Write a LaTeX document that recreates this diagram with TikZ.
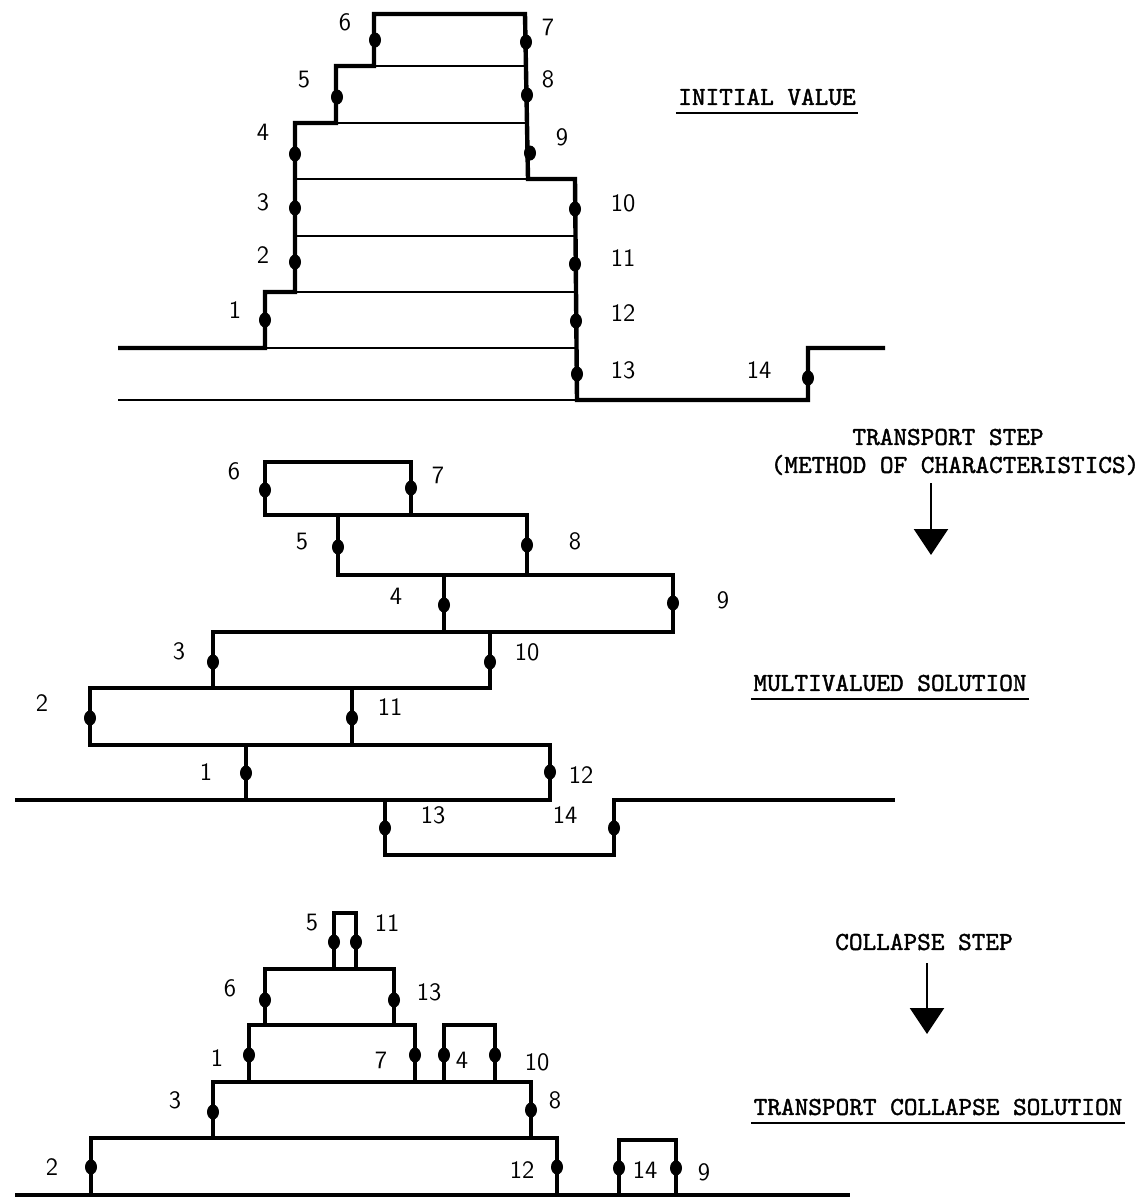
\documentclass[tikz,border=0pt]{standalone}
\usepackage{fontspec}
\newfontfamily\capfont{lmmono10-regular.otf}[FakeBold=1.5]
\usetikzlibrary{shapes,arrows.meta}

\begin{document}
\begin{tikzpicture}[x=0.5pt, y=-0.5pt,
  bold/.style={line width=2.2pt, line join=miter},
  fine/.style={line width=0.9pt},
  dot/.style={ellipse, fill=black, inner sep=0pt, minimum width=6pt, minimum height=7.5pt},
  num/.style={font=\sffamily\fontsize{12.5}{13}\selectfont, inner sep=0pt},
  caption/.style={font=\capfont\fontsize{13}{15}\selectfont, inner sep=0pt, align=center},
  uline/.style={line width=1pt},
  arr/.style={-{Triangle[length=13pt,width=17pt]}, line width=1.2pt}
]
  \useasboundingbox (0,0) rectangle (1139,1200);

  % initial value
  \draw[fine] (374,66) -- (525,66) (336,123) -- (525,123) (295,179) -- (527,179)
    (295,236) -- (575,236) (295,292) -- (575,292) (265,348) -- (575,348) (118,400) -- (577,400);
  \draw[bold] (118,348) -- (265,348) -- (265,292) -- (295,292) -- (295,123) -- (336,123)
    -- (336,66) -- (374,66) -- (374,14) -- (525,14) -- (528,179) -- (575,179) -- (577,400)
    -- (808,400) -- (808,348) -- (885,348);

  \node[dot] (da1) at (265,320) {};  \node[dot] (da2) at (295,262) {};
  \node[dot] (da3) at (295,208) {};  \node[dot] (da4) at (295,154) {};
  \node[dot] (da5) at (337,97) {};   \node[dot] (da6) at (375,40) {};
  \node[dot] (da7) at (526,42) {};   \node[dot] (da8) at (527,95) {};
  \node[dot] (da9) at (530,153) {};  \node[dot] (da10) at (575,209) {};
  \node[dot] (da11) at (575,264) {}; \node[dot] (da12) at (576,321) {};
  \node[dot] (da13) at (577,374) {}; \node[dot] (da14) at (808,378) {};

  \node[num] (a1) at (235,310) {1};   \node[num] (a2) at (263,255) {2};
  \node[num] (a3) at (263,202) {3};   \node[num] (a4) at (263,132) {4};
  \node[num] (a5) at (304,80) {5};    \node[num] (a6) at (345,22) {6};
  \node[num] (a7) at (548,27) {7};    \node[num] (a8) at (548,79) {8};
  \node[num] (a9) at (562,137) {9};   \node[num] (a10) at (623,203) {10};
  \node[num] (a11) at (623,258) {11}; \node[num] (a12) at (623,313) {12};
  \node[num] (a13) at (623,370) {13}; \node[num] (a14) at (759,370) {14};

  \node[caption] (init) at (767,97) {INITIAL VALUE};
  \draw[uline] ([shift={(-1pt,-3.5pt)}]init.south west) -- ([shift={(1pt,-3.5pt)}]init.south east);

  % transport step
  \node[caption] (tstep) at (948,437) {TRANSPORT STEP};
  \node[caption] (moc) at (955,465) {(METHOD OF CHARACTERISTICS)};
  \coordinate (arrtop1) at (931,483);
  \coordinate (arrtip1) at (931,555);
  \draw[arr] (arrtop1) -- (arrtip1);

  % multivalued solution
  \draw[bold] (265,462) rectangle (411,515);
  \draw[bold] (338,515) rectangle (527,575);
  \draw[bold] (444,575) rectangle (673,632);
  \draw[bold] (213,632) rectangle (490,688);
  \draw[bold] (90,688) rectangle (352,745);
  \draw[bold] (246,745) rectangle (550,800);
  \draw[bold] (15,800) -- (385,800) -- (385,855) -- (614,855) -- (614,800) -- (895,800);

  \node[dot] (db1) at (246,773) {};  \node[dot] (db2) at (90,718) {};
  \node[dot] (db3) at (213,662) {};  \node[dot] (db4) at (444,605) {};
  \node[dot] (db5) at (338,547) {};  \node[dot] (db6) at (265,490) {};
  \node[dot] (db7) at (411,488) {};  \node[dot] (db8) at (527,545) {};
  \node[dot] (db9) at (673,603) {};  \node[dot] (db10) at (490,662) {};
  \node[dot] (db11) at (352,718) {}; \node[dot] (db12) at (550,772) {};
  \node[dot] (db13) at (385,828) {}; \node[dot] (db14) at (614,828) {};

  \node[num] (b1) at (206,772) {1};   \node[num] (b2) at (42,703) {2};
  \node[num] (b3) at (179,651) {3};   \node[num] (b4) at (396,596) {4};
  \node[num] (b5) at (302,542) {5};   \node[num] (b6) at (234,471) {6};
  \node[num] (b7) at (438,475) {7};   \node[num] (b8) at (575,541) {8};
  \node[num] (b9) at (723,600) {9};   \node[num] (b10) at (527,652) {10};
  \node[num] (b11) at (390,707) {11}; \node[num] (b12) at (581,775) {12};
  \node[num] (b13) at (433,815) {13}; \node[num] (b14) at (565,815) {14};

  \node[caption] (multi) at (890,683) {MULTIVALUED SOLUTION};
  \draw[uline] ([shift={(-1pt,-3.5pt)}]multi.south west) -- ([shift={(1pt,-3.5pt)}]multi.south east);

  % collapse step
  \node[caption] (cstep) at (924,942) {COLLAPSE STEP};
  \coordinate (arrtop2) at (927,963);
  \coordinate (arrtip2) at (927,1034);
  \draw[arr] (arrtop2) -- (arrtip2);

  % transport collapse solution
  \draw[bold] (15,1195) -- (850,1195);
  \draw[bold] (91,1195) |- (557,1138) -- (557,1195);
  \draw[bold] (213,1138) |- (531,1082) -- (531,1138);
  \draw[bold] (249,1082) |- (415,1025) -- (415,1082);
  \draw[bold] (444,1082) |- (495,1025) -- (495,1082);
  \draw[bold] (265,1025) |- (394,969) -- (394,1025);
  \draw[bold] (334,969) |- (356,913) -- (356,969);
  \draw[bold] (619,1195) |- (676,1140) -- (676,1195);

  \node[dot] (dc1) at (249,1055) {};  \node[dot] (dc2) at (91,1167) {};
  \node[dot] (dc3) at (213,1112) {};  \node[dot] (dc4) at (444,1055) {};
  \node[dot] (dc5) at (334,942) {};   \node[dot] (dc6) at (265,1000) {};
  \node[dot] (dc7) at (415,1055) {};  \node[dot] (dc8) at (531,1110) {};
  \node[dot] (dc9) at (676,1168) {};  \node[dot] (dc10) at (495,1055) {};
  \node[dot] (dc11) at (356,942) {};  \node[dot] (dc12) at (557,1167) {};
  \node[dot] (dc13) at (394,1000) {}; \node[dot] (dc14) at (619,1168) {};

  \node[num] (c1) at (217,1058) {1};   \node[num] (c2) at (52,1167) {2};
  \node[num] (c3) at (175,1100) {3};   \node[num] (c4) at (462,1060) {4};
  \node[num] (c5) at (312,923) {5};    \node[num] (c6) at (230,988) {6};
  \node[num] (c7) at (381,1060) {7};   \node[num] (c8) at (555,1100) {8};
  \node[num] (c9) at (704,1172) {9};   \node[num] (c10) at (537,1062) {10};
  \node[num] (c11) at (387,923) {11};  \node[num] (c12) at (522,1170) {12};
  \node[num] (c13) at (429,992) {13};  \node[num] (c14) at (645,1170) {14};

  \node[caption] (tcs) at (938,1107) {TRANSPORT COLLAPSE SOLUTION};
  \draw[uline] ([shift={(-1pt,-3.5pt)}]tcs.south west) -- ([shift={(1pt,-3.5pt)}]tcs.south east);
\end{tikzpicture}
\end{document}
